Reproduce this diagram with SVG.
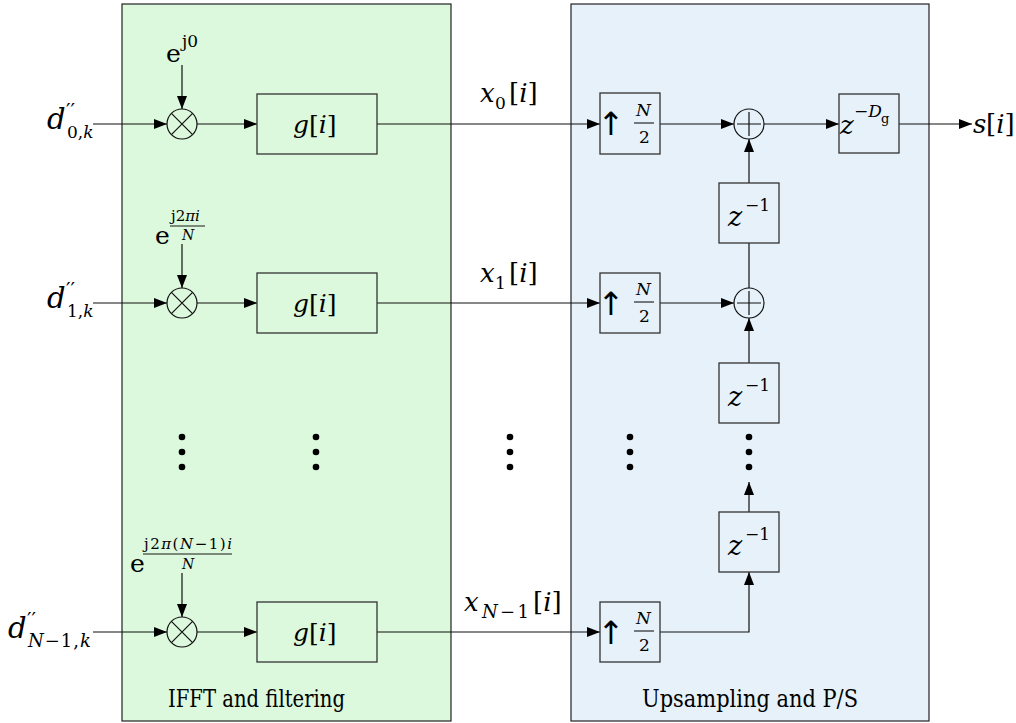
<svg xmlns="http://www.w3.org/2000/svg" width="1016" height="723" viewBox="0 0 1016 723">
<style>
text{font-family:"DejaVu Serif",serif;fill:#000}
.m{font-style:italic}
.r{font-style:normal}
.pr{font-style:normal;font-size:20px}
.up{font-family:"DejaVu Sans",sans-serif;font-size:32px}
.box{fill:none;stroke:#333;stroke-width:1.3}
.ln{fill:none;stroke:#111;stroke-width:1.2}
.circ{fill:none;stroke:#111;stroke-width:1.2}
</style>
<defs>
<marker id="ah" markerUnits="userSpaceOnUse" markerWidth="14" markerHeight="10" refX="13" refY="5" orient="auto">
<path d="M0,0 L13,5 L0,10 z" fill="#000"/>
</marker>
</defs>
<rect id="panel-ifft" x="122" y="4" width="329" height="717" fill="#dcf8dd" stroke="#222" stroke-width="1.2"/>
<rect id="panel-ups" x="571" y="4" width="358" height="717" fill="#e6f1f9" stroke="#222" stroke-width="1.2"/>

<g id="connectors">
<line class="ln" x1="93" y1="124" x2="167" y2="124" marker-end="url(#ah)"/>
<line class="ln" x1="182" y1="65" x2="182" y2="109" marker-end="url(#ah)"/>
<line class="ln" x1="197" y1="124" x2="257" y2="124" marker-end="url(#ah)"/>
<line class="ln" x1="377" y1="124" x2="600" y2="124" marker-end="url(#ah)"/>
<line class="ln" x1="660" y1="124" x2="734" y2="124" marker-end="url(#ah)"/>
<line class="ln" x1="764" y1="124" x2="839" y2="124" marker-end="url(#ah)"/>
<line class="ln" x1="899" y1="124" x2="972" y2="124" marker-end="url(#ah)"/>
<line class="ln" x1="749" y1="183" x2="749" y2="139" marker-end="url(#ah)"/>
<line class="ln" x1="93" y1="303" x2="167" y2="303" marker-end="url(#ah)"/>
<line class="ln" x1="182" y1="244" x2="182" y2="288" marker-end="url(#ah)"/>
<line class="ln" x1="197" y1="303" x2="257" y2="303" marker-end="url(#ah)"/>
<line class="ln" x1="377" y1="303" x2="600" y2="303" marker-end="url(#ah)"/>
<line class="ln" x1="660" y1="303" x2="734" y2="303" marker-end="url(#ah)"/>
<line class="ln" x1="749" y1="288" x2="749" y2="243"/>
<line class="ln" x1="749" y1="363" x2="749" y2="318" marker-end="url(#ah)"/>
<line class="ln" x1="93" y1="632" x2="167" y2="632" marker-end="url(#ah)"/>
<line class="ln" x1="182" y1="573" x2="182" y2="617" marker-end="url(#ah)"/>
<line class="ln" x1="197" y1="632" x2="257" y2="632" marker-end="url(#ah)"/>
<line class="ln" x1="377" y1="632" x2="600" y2="632" marker-end="url(#ah)"/>
<path class="ln" d="M660,632 H749 V572" marker-end="url(#ah)"/>
<line class="ln" x1="749" y1="512" x2="749" y2="482" marker-end="url(#ah)"/>
</g>

<g id="in0"><text class="m" x="47" y="129" font-size="29">d</text><text class="pr" x="66" y="118">′′</text><text class="r" x="67" y="138" font-size="17">0,<tspan class="m">k</tspan></text></g>
<g id="exp0"><text class="r" x="166" y="62" font-size="25">e</text><text class="r" x="182" y="47" font-size="17">j0</text></g>
<g id="mul0"><circle class="circ" cx="182" cy="124" r="15"/><path class="ln" d="M171.4,113.4 L192.6,134.6 M192.6,113.4 L171.4,134.6"/></g>
<g id="g0"><rect class="box" x="257" y="94" width="120" height="60"/><text class="m" x="293" y="133" font-size="25">g<tspan class="r">[</tspan>i<tspan class="r">]</tspan></text></g>
<g id="x0"><text class="m" x="480" y="102" font-size="26">x</text><text class="r" x="495" y="109" font-size="17">0</text><text class="r" x="509" y="102" font-size="26">[<tspan class="m">i</tspan>]</text></g>
<g id="up0"><rect class="box" x="600" y="93" width="60" height="61"/><text class="up" x="611" y="135" text-anchor="middle">↑</text><text class="m" x="636" y="116" font-size="17">N</text><line x1="634" y1="123" x2="654" y2="123" stroke="#000" stroke-width="1"/><text class="r" x="639" y="143" font-size="17">2</text></g>
<g id="add0"><circle class="circ" cx="749" cy="124" r="15"/><path class="ln" d="M749,112 V136 M737,124 H761"/></g>
<g id="delayD"><rect class="box" x="839" y="94" width="60" height="59"/><text class="m" x="840" y="134" font-size="26">z</text><text class="r" x="854" y="117" font-size="17">−<tspan class="m">D</tspan></text><text class="r" x="881" y="123" font-size="13">g</text></g>
<g id="out"><text class="m" x="973" y="133" font-size="26">s</text><text class="r" x="986" y="133" font-size="26">[<tspan class="m">i</tspan>]</text></g>
<g id="z1"><rect class="box" x="719" y="183" width="60" height="60"/><text class="m" x="728" y="226" font-size="27">z</text><text class="r" x="745" y="211" font-size="17">−1</text></g>

<g id="in1"><text class="m" x="47" y="308" font-size="29">d</text><text class="pr" x="66" y="297">′′</text><text class="r" x="67" y="317" font-size="17">1,<tspan class="m">k</tspan></text></g>
<g id="exp1"><text class="r" x="155" y="244" font-size="25">e</text><text class="r" x="171" y="221" font-size="15">j2<tspan class="m">πi</tspan></text><line x1="170" y1="226" x2="205" y2="226" stroke="#000" stroke-width="0.9"/><text class="m" x="182" y="240" font-size="14">N</text></g>
<g id="mul1"><circle class="circ" cx="182" cy="303" r="15"/><path class="ln" d="M171.4,292.4 L192.6,313.6 M192.6,292.4 L171.4,313.6"/></g>
<g id="g1"><rect class="box" x="257" y="273" width="120" height="60"/><text class="m" x="293" y="312" font-size="25">g<tspan class="r">[</tspan>i<tspan class="r">]</tspan></text></g>
<g id="x1"><text class="m" x="480" y="282" font-size="26">x</text><text class="r" x="495" y="289" font-size="17">1</text><text class="r" x="509" y="282" font-size="26">[<tspan class="m">i</tspan>]</text></g>
<g id="up1"><rect class="box" x="600" y="273" width="60" height="60"/><text class="up" x="611" y="315" text-anchor="middle">↑</text><text class="m" x="636" y="295" font-size="17">N</text><line x1="634" y1="302" x2="654" y2="302" stroke="#000" stroke-width="1"/><text class="r" x="639" y="322" font-size="17">2</text></g>
<g id="add1"><circle class="circ" cx="749" cy="303" r="15"/><path class="ln" d="M749,291 V315 M737,303 H761"/></g>
<g id="z2"><rect class="box" x="719" y="363" width="60" height="60"/><text class="m" x="728" y="406" font-size="27">z</text><text class="r" x="745" y="391" font-size="17">−1</text></g>

<g id="dots" fill="#000">
<circle cx="182" cy="437" r="3.3"/><circle cx="182" cy="452" r="3.3"/><circle cx="182" cy="467" r="3.3"/>
<circle cx="316" cy="437" r="3.3"/><circle cx="316" cy="452" r="3.3"/><circle cx="316" cy="467" r="3.3"/>
<circle cx="510" cy="437" r="3.3"/><circle cx="510" cy="452" r="3.3"/><circle cx="510" cy="467" r="3.3"/>
<circle cx="630" cy="437" r="3.3"/><circle cx="630" cy="452" r="3.3"/><circle cx="630" cy="467" r="3.3"/>
<circle cx="749" cy="437" r="3.3"/><circle cx="749" cy="452" r="3.3"/><circle cx="749" cy="467" r="3.3"/>
</g>

<g id="in2"><text class="m" x="8" y="638" font-size="29">d</text><text class="pr" x="27" y="627">′′</text><text class="r" x="28" y="647" font-size="18" textLength="63"><tspan class="m">N</tspan>−1,<tspan class="m">k</tspan></text></g>
<g id="exp2"><text class="r" x="130" y="572" font-size="25">e</text><text class="r" x="144" y="549" font-size="15" textLength="88">j2<tspan class="m">π</tspan>(<tspan class="m">N</tspan>−1)<tspan class="m">i</tspan></text><line x1="143" y1="554" x2="232" y2="554" stroke="#000" stroke-width="0.9"/><text class="m" x="182" y="569" font-size="14">N</text></g>
<g id="mul2"><circle class="circ" cx="182" cy="632" r="15"/><path class="ln" d="M171.4,621.4 L192.6,642.6 M192.6,621.4 L171.4,642.6"/></g>
<g id="g2"><rect class="box" x="257" y="602" width="120" height="60"/><text class="m" x="293" y="641" font-size="25">g<tspan class="r">[</tspan>i<tspan class="r">]</tspan></text></g>
<g id="x2"><text class="m" x="464" y="611" font-size="26">x</text><text class="r" x="482" y="618" font-size="18" textLength="47"><tspan class="m">N</tspan>−1</text><text class="r" x="533" y="611" font-size="26">[<tspan class="m">i</tspan>]</text></g>
<g id="up2"><rect class="box" x="600" y="602" width="60" height="60"/><text class="up" x="611" y="644" text-anchor="middle">↑</text><text class="m" x="636" y="624" font-size="17">N</text><line x1="634" y1="631" x2="654" y2="631" stroke="#000" stroke-width="1"/><text class="r" x="639" y="651" font-size="17">2</text></g>
<g id="z3"><rect class="box" x="719" y="512" width="60" height="60"/><text class="m" x="728" y="555" font-size="27">z</text><text class="r" x="745" y="540" font-size="17">−1</text></g>

<text class="r" x="168" y="707" font-size="24" textLength="177" lengthAdjust="spacingAndGlyphs">IFFT and filtering</text>
<text class="r" x="642" y="707" font-size="24" textLength="216" lengthAdjust="spacingAndGlyphs">Upsampling and P/S</text>
</svg>
